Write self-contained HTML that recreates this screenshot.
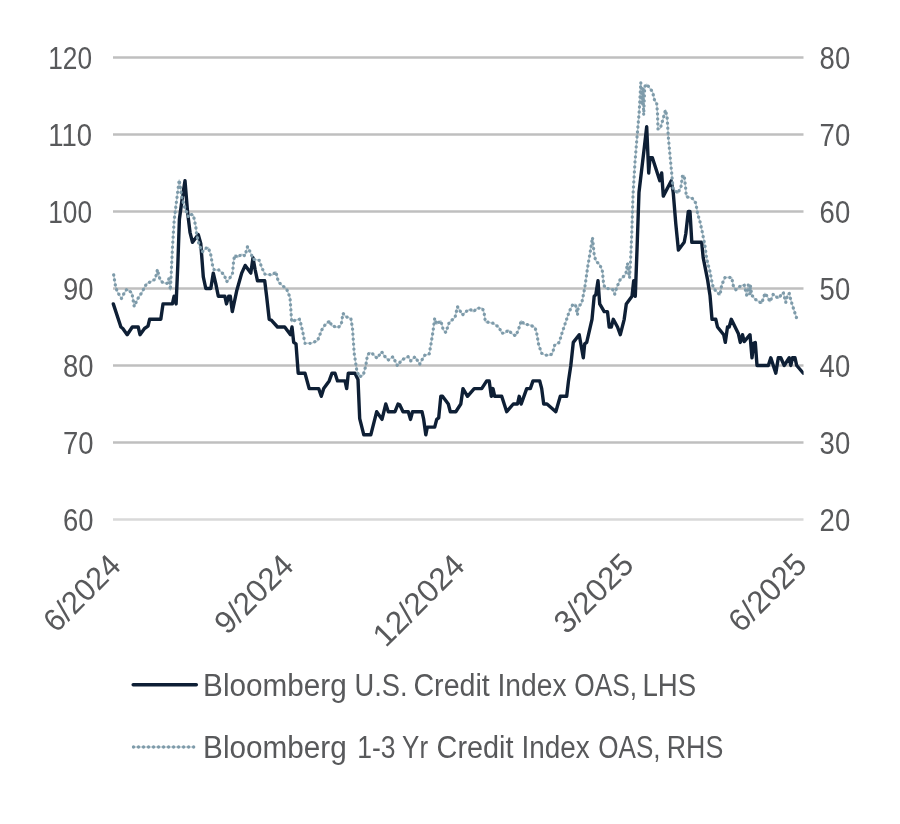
<!DOCTYPE html>
<html lang="en">
<head>
<meta charset="utf-8">
<title>Bloomberg Credit Index OAS</title>
<style>
html,body{margin:0;padding:0;background:#fff;}
body{width:900px;height:824px;overflow:hidden;font-family:"Liberation Sans",sans-serif;}
svg{display:block;}
svg text{font-family:"Liberation Sans",sans-serif;fill:#58595b;}
</style>
</head>
<body>
<svg width="900" height="824" viewBox="0 0 900 824">
<rect width="900" height="824" fill="#ffffff"/>
<g id="grid">
<line x1="113" x2="803.5" y1="57.5" y2="57.5" stroke="#bfbfbf" stroke-width="2.5"/>
<line x1="113" x2="803.5" y1="134.5" y2="134.5" stroke="#bfbfbf" stroke-width="2.5"/>
<line x1="113" x2="803.5" y1="211.5" y2="211.5" stroke="#bfbfbf" stroke-width="2.5"/>
<line x1="113" x2="803.5" y1="288.5" y2="288.5" stroke="#bfbfbf" stroke-width="2.5"/>
<line x1="113" x2="803.5" y1="365.5" y2="365.5" stroke="#bfbfbf" stroke-width="2.5"/>
<line x1="113" x2="803.5" y1="442.5" y2="442.5" stroke="#bfbfbf" stroke-width="2.5"/>
<line x1="113" x2="803.5" y1="519.5" y2="519.5" stroke="#d9d9d9" stroke-width="2.5"/>
</g>
<g id="ylabels">
<text x="48.16" y="68.8" textLength="43.86" lengthAdjust="spacingAndGlyphs" font-size="31.5">120</text>
<text x="48.16" y="145.8" textLength="43.86" lengthAdjust="spacingAndGlyphs" font-size="31.5">110</text>
<text x="48.16" y="222.8" textLength="43.86" lengthAdjust="spacingAndGlyphs" font-size="31.5">100</text>
<text x="62.96" y="299.8" textLength="30.52" lengthAdjust="spacingAndGlyphs" font-size="31.5">90</text>
<text x="62.96" y="376.8" textLength="30.52" lengthAdjust="spacingAndGlyphs" font-size="31.5">80</text>
<text x="62.96" y="453.8" textLength="30.52" lengthAdjust="spacingAndGlyphs" font-size="31.5">70</text>
<text x="62.96" y="530.8" textLength="30.52" lengthAdjust="spacingAndGlyphs" font-size="31.5">60</text>
<text x="819.61" y="68.8" textLength="30.55" lengthAdjust="spacingAndGlyphs" font-size="31.5">80</text>
<text x="819.61" y="145.8" textLength="30.55" lengthAdjust="spacingAndGlyphs" font-size="31.5">70</text>
<text x="819.61" y="222.8" textLength="30.55" lengthAdjust="spacingAndGlyphs" font-size="31.5">60</text>
<text x="819.61" y="299.8" textLength="30.55" lengthAdjust="spacingAndGlyphs" font-size="31.5">50</text>
<text x="819.61" y="376.8" textLength="30.55" lengthAdjust="spacingAndGlyphs" font-size="31.5">40</text>
<text x="819.61" y="453.8" textLength="30.55" lengthAdjust="spacingAndGlyphs" font-size="31.5">30</text>
<text x="819.61" y="530.8" textLength="30.55" lengthAdjust="spacingAndGlyphs" font-size="31.5">20</text>
</g>
<g id="xlabels">
<text transform="translate(122.50,567.50) rotate(-45)" text-anchor="end" textLength="93.59" lengthAdjust="spacingAndGlyphs" font-size="31.5">6/2024</text>
<text transform="translate(295.50,567.50) rotate(-45)" text-anchor="end" textLength="96.41" lengthAdjust="spacingAndGlyphs" font-size="31.5">9/2024</text>
<text transform="translate(466.50,567.50) rotate(-45)" text-anchor="end" textLength="114.26" lengthAdjust="spacingAndGlyphs" font-size="31.5">12/2024</text>
<text transform="translate(635.50,566.50) rotate(-45)" text-anchor="end" textLength="97.15" lengthAdjust="spacingAndGlyphs" font-size="31.5">3/2025</text>
<text transform="translate(808.50,566.50) rotate(-45)" text-anchor="end" textLength="95.03" lengthAdjust="spacingAndGlyphs" font-size="31.5">6/2025</text>
</g>
<clipPath id="plot"><rect x="111" y="40" width="692.6" height="500"/></clipPath>
<g id="series" clip-path="url(#plot)">
<path d="M113.3,303.9 L120.9,327.0 L122.8,328.5 L127.2,334.7 L132.3,327.0 L138.2,327.0 L140.0,334.7 L144.5,328.5 L148.0,326.2 L149.6,319.3 L160.8,319.3 L163.0,303.9 L172.4,303.9 L174.1,296.2 L176.1,303.9 L177.8,265.4 L179.4,219.2 L182.0,199.9 L185.0,180.7 L187.5,211.5 L190.0,232.3 L192.5,242.3 L198.3,234.6 L200.8,243.8 L203.3,276.9 L205.8,288.5 L210.8,288.5 L213.3,273.1 L215.8,283.9 L218.3,296.2 L224.8,296.2 L226.5,303.9 L228.7,296.2 L230.3,296.2 L232.3,311.6 L236.7,290.8 L241.7,273.1 L245.2,265.4 L250.8,273.1 L253.0,257.7 L255.2,270.0 L257.5,280.8 L264.7,280.8 L266.7,297.0 L269.2,319.3 L271.3,320.1 L277.5,327.0 L284.7,327.0 L290.5,334.7 L292.0,327.0 L293.7,342.4 L296.0,343.9 L298.2,373.2 L305.0,373.2 L309.2,388.6 L318.7,388.6 L321.3,396.3 L323.7,388.6 L329.2,380.9 L332.0,373.2 L335.0,373.2 L337.5,380.9 L345.0,380.9 L346.7,388.6 L348.3,373.2 L355.0,373.2 L358.0,379.4 L359.7,418.6 L363.8,434.8 L370.8,434.8 L376.7,411.7 L382.0,419.4 L385.8,404.0 L388.3,411.7 L395.0,411.7 L398.0,404.0 L399.7,404.8 L403.0,411.7 L408.3,411.7 L410.5,419.4 L412.5,411.7 L422.0,411.7 L423.7,419.4 L425.8,434.8 L427.3,427.1 L434.7,427.1 L436.7,419.4 L438.7,417.9 L440.8,396.3 L442.5,396.3 L448.3,404.0 L450.3,411.7 L455.8,411.7 L460.8,404.0 L463.0,388.6 L467.5,396.3 L474.2,388.6 L481.7,388.6 L486.7,380.9 L489.2,380.9 L491.3,396.3 L493.0,388.6 L494.7,396.3 L501.7,396.3 L504.2,404.0 L506.7,411.7 L513.3,404.0 L517.5,404.0 L519.2,396.3 L521.2,404.0 L526.7,388.6 L530.3,388.6 L533.0,380.9 L539.7,380.9 L541.7,388.6 L543.7,404.0 L547.0,404.0 L555.8,411.7 L560.3,396.3 L566.7,396.3 L568.5,380.9 L570.8,365.5 L573.3,342.4 L579.2,334.7 L583.3,357.8 L584.7,343.9 L586.7,342.4 L592.0,319.3 L594.2,296.2 L595.8,294.7 L598.0,280.8 L599.7,303.9 L604.2,311.6 L607.5,311.6 L609.2,327.0 L611.3,327.0 L613.3,319.3 L617.5,327.0 L620.3,334.7 L624.2,319.3 L626.3,303.9 L632.0,296.2 L633.7,280.8 L635.3,296.2 L637.0,250.0 L639.0,192.2 L644.2,148.4 L646.7,126.8 L648.7,173.0 L650.0,157.6 L652.3,157.6 L659.8,180.7 L661.7,173.0 L663.3,196.1 L671.3,180.7 L673.2,192.2 L675.8,223.8 L678.4,250.0 L684.2,242.3 L685.8,233.8 L688.3,211.5 L690.0,211.5 L691.8,242.3 L701.7,242.3 L703.2,257.7 L707.5,279.3 L710.0,295.4 L712.0,319.3 L715.8,319.3 L717.5,327.0 L723.7,334.7 L725.3,342.4 L727.5,327.0 L729.2,327.0 L731.3,319.3 L738.3,333.5 L740.3,342.4 L742.5,334.7 L744.2,341.6 L750.0,334.7 L752.0,357.8 L753.7,343.2 L755.3,342.4 L757.0,365.5 L768.3,365.5 L770.8,357.8 L773.3,365.5 L775.8,373.2 L778.3,357.8 L780.8,357.8 L784.2,365.5 L789.2,357.8 L790.8,365.5 L792.5,357.8 L795.0,357.8 L796.7,365.5 L803.3,373.2" fill="none" stroke="#0e1f35" stroke-width="3.4" stroke-linejoin="round" stroke-linecap="round"/>
<path d="M113.7,275.0 L115.5,286.0 L117.2,291.5 L121.5,298.5 L124.1,293.3 L126.8,289.3 L131.9,292.8 L134.2,306.5 L137.6,299.0 L142.5,291.5 L144.5,287.0 L147.0,283.4 L152.0,281.2 L155.3,279.0 L157.5,269.5 L158.8,275.5 L160.3,280.0 L163.0,282.8 L167.2,283.4 L169.0,278.4 L170.4,290.0 L171.2,274.0 L172.5,246.7 L174.2,220.0 L176.7,200.0 L179.2,180.0 L181.7,196.7 L185.0,208.3 L188.3,216.7 L190.0,214.2 L193.3,215.0 L195.8,226.7 L196.7,235.0 L199.2,245.0 L202.5,251.7 L205.8,248.3 L208.3,247.5 L210.8,255.0 L212.5,265.0 L214.2,270.0 L219.2,270.0 L224.2,275.0 L226.7,281.7 L229.2,279.2 L232.5,273.3 L233.7,260.0 L235.0,255.0 L237.5,257.5 L241.7,254.2 L245.0,255.8 L247.5,246.7 L250.0,251.5 L253.3,259.2 L259.2,260.3 L261.7,267.5 L265.0,274.2 L272.5,275.0 L275.8,271.7 L278.3,281.7 L281.7,285.0 L286.7,289.2 L290.0,297.5 L291.7,321.7 L295.8,320.0 L299.7,319.2 L302.5,330.8 L305.0,343.3 L310.8,343.3 L317.5,340.8 L321.7,330.0 L325.0,325.0 L329.7,320.8 L331.7,325.8 L338.3,327.5 L341.3,324.2 L343.0,313.3 L345.8,316.7 L350.8,318.3 L352.5,328.3 L354.2,353.3 L356.7,370.0 L359.2,377.0 L363.3,375.0 L365.8,365.8 L367.5,355.0 L370.0,352.5 L373.3,354.2 L377.0,358.3 L381.7,351.7 L384.2,355.8 L388.3,360.0 L393.0,356.7 L397.5,365.8 L401.7,360.0 L408.3,356.7 L410.8,360.8 L415.0,356.7 L419.7,364.2 L423.3,357.5 L425.0,355.0 L429.2,354.2 L430.8,345.0 L433.0,331.7 L434.7,318.3 L436.7,324.2 L440.8,320.8 L443.3,330.0 L445.8,332.5 L449.2,322.5 L455.0,317.5 L457.5,306.7 L460.0,310.8 L462.5,315.0 L465.8,311.7 L470.0,309.2 L473.3,311.7 L477.5,308.0 L482.5,308.3 L484.2,313.3 L485.3,321.7 L493.3,323.3 L499.2,327.5 L501.7,333.3 L505.0,333.0 L508.3,330.0 L512.5,334.2 L515.8,335.8 L518.3,330.0 L521.3,320.8 L524.2,324.2 L530.0,325.0 L535.0,327.5 L536.7,333.3 L538.7,345.0 L541.7,353.3 L545.0,355.0 L550.0,355.3 L552.5,353.3 L554.7,345.0 L559.2,342.5 L561.7,334.0 L565.8,321.7 L569.2,311.7 L572.5,305.0 L575.3,304.2 L577.5,315.0 L578.3,306.7 L581.7,303.3 L584.7,288.3 L587.5,268.3 L590.0,253.3 L592.5,237.5 L594.2,255.0 L595.8,260.8 L600.0,265.0 L602.5,271.7 L603.7,285.0 L605.8,288.3 L612.5,289.2 L614.7,294.2 L616.7,287.5 L620.0,280.0 L625.8,274.2 L627.5,263.3 L629.5,278.0 L630.5,262.0 L631.7,235.0 L633.0,195.0 L635.0,162.0 L637.2,135.0 L639.2,111.7 L640.8,82.5 L642.0,105.0 L642.8,88.0 L643.7,115.0 L644.7,86.7 L646.7,84.2 L652.5,91.7 L654.7,100.8 L656.7,103.3 L657.5,113.3 L658.0,129.2 L660.3,128.3 L663.3,118.3 L665.5,110.0 L667.2,118.3 L668.3,136.7 L670.0,155.0 L671.7,173.3 L673.0,188.3 L677.8,193.3 L681.0,187.0 L682.5,175.8 L684.2,175.5 L685.6,187.5 L686.3,196.7 L692.0,198.0 L695.8,203.0 L697.5,213.3 L700.0,221.7 L702.5,233.3 L705.0,246.0 L706.7,259.0 L710.0,271.7 L712.5,285.0 L715.0,290.0 L720.0,295.0 L721.7,285.0 L725.0,277.5 L731.7,277.5 L733.3,285.8 L735.8,289.7 L740.8,285.8 L744.2,285.0 L746.7,295.0 L748.3,285.0 L749.7,294.2 L750.3,285.0 L751.7,295.0 L755.0,299.2 L761.7,303.3 L765.0,293.3 L767.5,296.7 L770.0,301.7 L773.3,294.2 L778.3,298.3 L783.3,292.5 L785.8,302.5 L787.5,295.0 L789.2,293.3 L790.8,300.0 L794.2,310.8 L796.7,318.3" fill="none" stroke="#7e9baa" stroke-opacity="0.5" stroke-width="1.4" stroke-linejoin="round"/>
<path d="M113.7,275.0 L115.5,286.0 L117.2,291.5 L121.5,298.5 L124.1,293.3 L126.8,289.3 L131.9,292.8 L134.2,306.5 L137.6,299.0 L142.5,291.5 L144.5,287.0 L147.0,283.4 L152.0,281.2 L155.3,279.0 L157.5,269.5 L158.8,275.5 L160.3,280.0 L163.0,282.8 L167.2,283.4 L169.0,278.4 L170.4,290.0 L171.2,274.0 L172.5,246.7 L174.2,220.0 L176.7,200.0 L179.2,180.0 L181.7,196.7 L185.0,208.3 L188.3,216.7 L190.0,214.2 L193.3,215.0 L195.8,226.7 L196.7,235.0 L199.2,245.0 L202.5,251.7 L205.8,248.3 L208.3,247.5 L210.8,255.0 L212.5,265.0 L214.2,270.0 L219.2,270.0 L224.2,275.0 L226.7,281.7 L229.2,279.2 L232.5,273.3 L233.7,260.0 L235.0,255.0 L237.5,257.5 L241.7,254.2 L245.0,255.8 L247.5,246.7 L250.0,251.5 L253.3,259.2 L259.2,260.3 L261.7,267.5 L265.0,274.2 L272.5,275.0 L275.8,271.7 L278.3,281.7 L281.7,285.0 L286.7,289.2 L290.0,297.5 L291.7,321.7 L295.8,320.0 L299.7,319.2 L302.5,330.8 L305.0,343.3 L310.8,343.3 L317.5,340.8 L321.7,330.0 L325.0,325.0 L329.7,320.8 L331.7,325.8 L338.3,327.5 L341.3,324.2 L343.0,313.3 L345.8,316.7 L350.8,318.3 L352.5,328.3 L354.2,353.3 L356.7,370.0 L359.2,377.0 L363.3,375.0 L365.8,365.8 L367.5,355.0 L370.0,352.5 L373.3,354.2 L377.0,358.3 L381.7,351.7 L384.2,355.8 L388.3,360.0 L393.0,356.7 L397.5,365.8 L401.7,360.0 L408.3,356.7 L410.8,360.8 L415.0,356.7 L419.7,364.2 L423.3,357.5 L425.0,355.0 L429.2,354.2 L430.8,345.0 L433.0,331.7 L434.7,318.3 L436.7,324.2 L440.8,320.8 L443.3,330.0 L445.8,332.5 L449.2,322.5 L455.0,317.5 L457.5,306.7 L460.0,310.8 L462.5,315.0 L465.8,311.7 L470.0,309.2 L473.3,311.7 L477.5,308.0 L482.5,308.3 L484.2,313.3 L485.3,321.7 L493.3,323.3 L499.2,327.5 L501.7,333.3 L505.0,333.0 L508.3,330.0 L512.5,334.2 L515.8,335.8 L518.3,330.0 L521.3,320.8 L524.2,324.2 L530.0,325.0 L535.0,327.5 L536.7,333.3 L538.7,345.0 L541.7,353.3 L545.0,355.0 L550.0,355.3 L552.5,353.3 L554.7,345.0 L559.2,342.5 L561.7,334.0 L565.8,321.7 L569.2,311.7 L572.5,305.0 L575.3,304.2 L577.5,315.0 L578.3,306.7 L581.7,303.3 L584.7,288.3 L587.5,268.3 L590.0,253.3 L592.5,237.5 L594.2,255.0 L595.8,260.8 L600.0,265.0 L602.5,271.7 L603.7,285.0 L605.8,288.3 L612.5,289.2 L614.7,294.2 L616.7,287.5 L620.0,280.0 L625.8,274.2 L627.5,263.3 L629.5,278.0 L630.5,262.0 L631.7,235.0 L633.0,195.0 L635.0,162.0 L637.2,135.0 L639.2,111.7 L640.8,82.5 L642.0,105.0 L642.8,88.0 L643.7,115.0 L644.7,86.7 L646.7,84.2 L652.5,91.7 L654.7,100.8 L656.7,103.3 L657.5,113.3 L658.0,129.2 L660.3,128.3 L663.3,118.3 L665.5,110.0 L667.2,118.3 L668.3,136.7 L670.0,155.0 L671.7,173.3 L673.0,188.3 L677.8,193.3 L681.0,187.0 L682.5,175.8 L684.2,175.5 L685.6,187.5 L686.3,196.7 L692.0,198.0 L695.8,203.0 L697.5,213.3 L700.0,221.7 L702.5,233.3 L705.0,246.0 L706.7,259.0 L710.0,271.7 L712.5,285.0 L715.0,290.0 L720.0,295.0 L721.7,285.0 L725.0,277.5 L731.7,277.5 L733.3,285.8 L735.8,289.7 L740.8,285.8 L744.2,285.0 L746.7,295.0 L748.3,285.0 L749.7,294.2 L750.3,285.0 L751.7,295.0 L755.0,299.2 L761.7,303.3 L765.0,293.3 L767.5,296.7 L770.0,301.7 L773.3,294.2 L778.3,298.3 L783.3,292.5 L785.8,302.5 L787.5,295.0 L789.2,293.3 L790.8,300.0 L794.2,310.8 L796.7,318.3" fill="none" stroke="#7e9baa" stroke-width="3.3" stroke-dasharray="0.01 5" stroke-linecap="round" stroke-linejoin="round"/>
</g>
<g id="legend">
<line x1="133.2" x2="196.3" y1="684.8" y2="684.8" stroke="#0e1f35" stroke-width="3.5" stroke-linecap="round"/>
<text y="696.0" font-size="31"><tspan x="203.08" textLength="143.69" lengthAdjust="spacingAndGlyphs">Bloomberg</tspan> <tspan x="354.53" textLength="53.03" lengthAdjust="spacingAndGlyphs">U.S.</tspan> <tspan x="413.48" textLength="76.29" lengthAdjust="spacingAndGlyphs">Credit</tspan> <tspan x="497.50" textLength="69.00" lengthAdjust="spacingAndGlyphs">Index</tspan> <tspan x="574.25" textLength="62.83" lengthAdjust="spacingAndGlyphs">OAS,</tspan> <tspan x="642.50" textLength="53.78" lengthAdjust="spacingAndGlyphs">LHS</tspan></text>
<line x1="132" x2="195.2" y1="747" y2="747" stroke="#7e9baa" stroke-opacity="0.5" stroke-width="1.4"/>
<line x1="133.5" x2="194.2" y1="747" y2="747" stroke="#7e9baa" stroke-width="3.3" stroke-dasharray="0.01 5" stroke-linecap="round"/>
<text y="758.1" font-size="31"><tspan x="203.08" textLength="143.69" lengthAdjust="spacingAndGlyphs">Bloomberg</tspan> <tspan x="357.18" textLength="38.30" lengthAdjust="spacingAndGlyphs">1-3</tspan> <tspan x="402.12" textLength="25.95" lengthAdjust="spacingAndGlyphs">Yr</tspan> <tspan x="436.61" textLength="76.91" lengthAdjust="spacingAndGlyphs">Credit</tspan> <tspan x="521.56" textLength="68.27" lengthAdjust="spacingAndGlyphs">Index</tspan> <tspan x="598.29" textLength="62.25" lengthAdjust="spacingAndGlyphs">OAS,</tspan> <tspan x="666.79" textLength="56.54" lengthAdjust="spacingAndGlyphs">RHS</tspan></text>
</g>
</svg>
</body>
</html>
